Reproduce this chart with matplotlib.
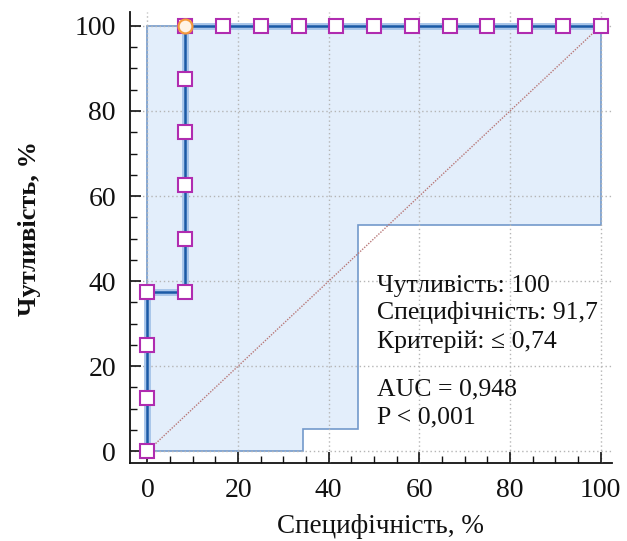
import matplotlib
matplotlib.use("Agg")
import matplotlib.pyplot as plt
from matplotlib.ticker import MultipleLocator

# ROC points (100 - specificity, sensitivity)
roc_x = [0, 0, 0, 0, 8.33, 8.33, 8.33, 8.33, 8.33, 8.33,
         16.67, 25, 33.33, 41.67, 50, 58.33, 66.67, 75, 83.33, 91.67, 100]
roc_y = [0, 12.5, 25, 37.5, 37.5, 50, 62.5, 75, 87.5, 100,
         100, 100, 100, 100, 100, 100, 100, 100, 100, 100, 100]

# confidence band
upper_x = [0, 0, 100]
upper_y = [0, 100, 100]
lower_x = [0, 34.4, 34.4, 46.4, 46.4, 100, 100]
lower_y = [0, 0, 5.2, 5.2, 53.2, 53.2, 100]

# optimal cut-off
opt_x = [8.33]
opt_y = [100]

ann_lines = ["Чутливість: 100", "Специфічність: 91,7", "Критерій: ≤ 0,74",
             "AUC = 0,948", "P < 0,001"]
ann_y = [37.4, 31.0, 24.2, 13.2, 6.6]
xticks = [0, 20, 40, 60, 80, 100]
yticks = [0, 20, 40, 60, 80, 100]

plt.rcParams['font.family'] = ['Liberation Serif', 'DejaVu Serif']

fig = plt.figure(figsize=(6.27, 5.41), dpi=100)
ax = fig.add_axes([0.207, 0.144, 0.769, 0.834])

# band polygon
poly_x = upper_x + lower_x[::-1]
poly_y = upper_y + lower_y[::-1]
ax.fill(poly_x, poly_y, facecolor='#e3eefb', edgecolor='#7399cb', linewidth=1.2, zorder=1)

ax.grid(True, linestyle=(0, (1, 2)), color='#b5b5b5', linewidth=1, zorder=2)
ax.set_axisbelow(False)

ax.plot([0, 100], [0, 100], linestyle=(0, (1, 1)), color='#b87878', linewidth=1, zorder=3)

ax.plot(roc_x, roc_y, color='#a9c6ea', linewidth=5, zorder=4)
ax.plot(roc_x, roc_y, color='#1b5aa6', linewidth=1.8, zorder=5)
ax.plot(roc_x, roc_y, linestyle='none', marker='s', markersize=9.5,
        markerfacecolor='white', markeredgecolor='#b02cb0', markeredgewidth=1.5, zorder=6)
ax.plot(opt_x, opt_y, linestyle='none', marker='o', markersize=10,
        markerfacecolor='#fff3e6', markeredgecolor='#f59a3c', markeredgewidth=1.6, zorder=7)

ax.set_xlim(-3.9, 102.5)
ax.set_ylim(-2.8, 103.3)
ax.set_xticks(xticks)
ax.set_yticks(yticks)
ax.xaxis.set_minor_locator(MultipleLocator(5))
ax.yaxis.set_minor_locator(MultipleLocator(5))
ax.tick_params(which='major', direction='in', length=8, width=1.2, labelsize=20, colors='#111111')
ax.tick_params(axis='x', which='major', pad=11)
ax.tick_params(axis='y', which='major', pad=10)
ax.tick_params(which='minor', direction='in', length=5, width=1.0, colors='#111111')
for s in ['top', 'right']:
    ax.spines[s].set_visible(False)
for s in ['left', 'bottom']:
    ax.spines[s].set_linewidth(1.3)
    ax.spines[s].set_color('#111111')

ax.set_xlabel("Специфічність, %", fontsize=19.5, color='#111111')
ax.xaxis.set_label_coords(0.52, -0.112)
ax.set_ylabel("Чутливість, %", fontsize=19, fontweight='bold', color='#111111')
ax.yaxis.set_label_coords(-0.185, 0.52)

for t, y in zip(ann_lines, ann_y):
    ax.text(50.7, y, t, fontsize=18.5, va='baseline', ha='left', color='#111111', zorder=8)

fig.savefig("out.png", dpi=100)
